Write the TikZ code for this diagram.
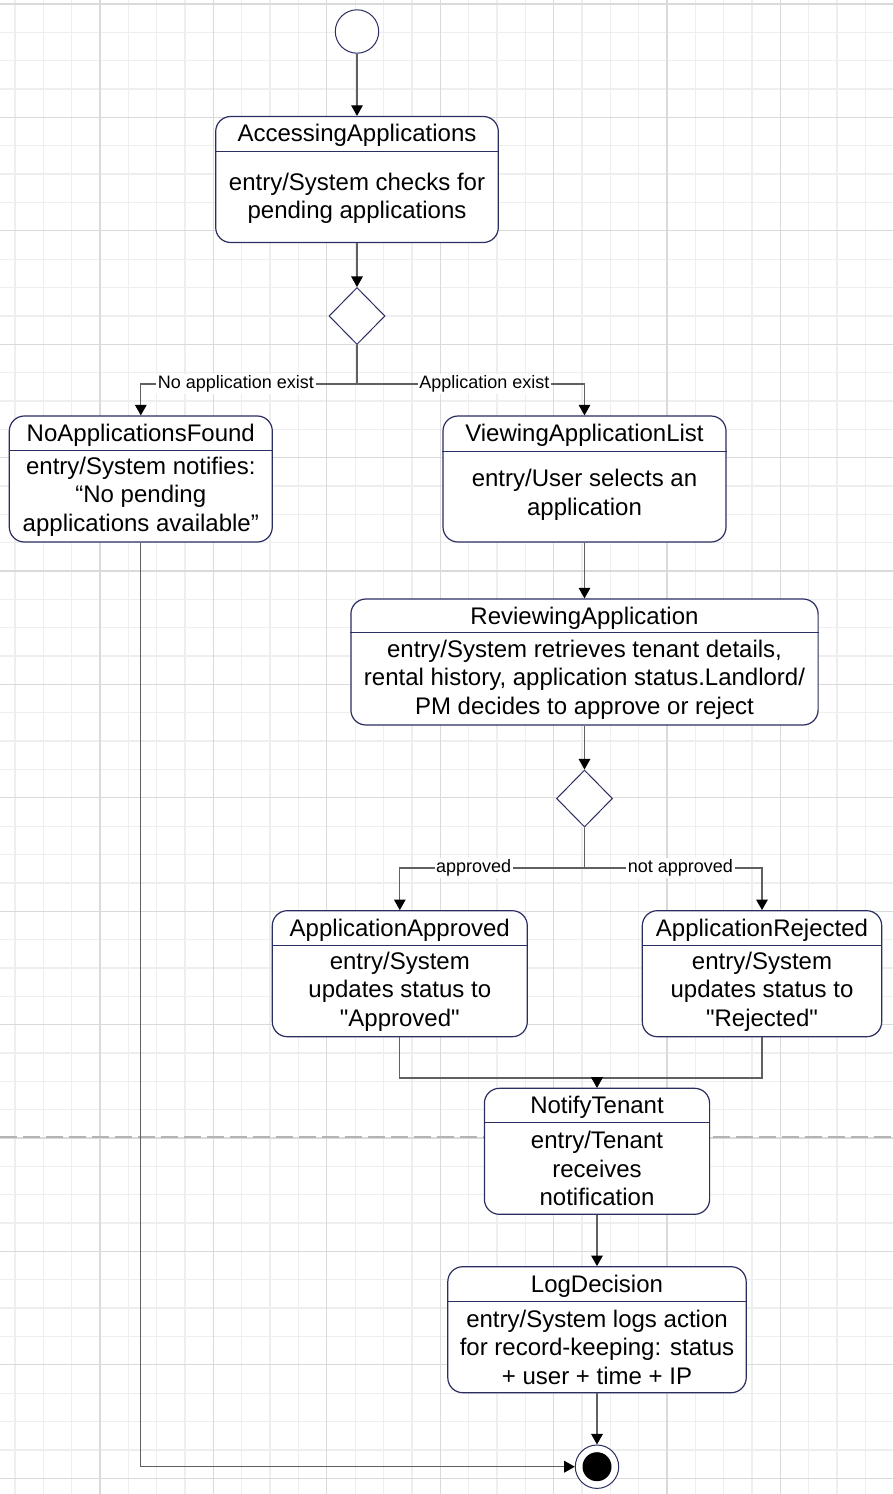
\documentclass[tikz,border=0pt]{standalone}
\usepackage{fontspec}
\setmainfont{Liberation Sans}
\newfontfamily\plainquote{Liberation Sans}
\usetikzlibrary{arrows.meta}
\usetikzlibrary{shapes.geometric}
\usetikzlibrary{calc}

\definecolor{navy}{RGB}{42,46,96}
\definecolor{gridminor}{RGB}{238,238,238}
\definecolor{gridmajor}{RGB}{218,218,218}
\definecolor{wire}{RGB}{96,96,96}
\definecolor{pagebreak}{RGB}{180,180,180}

% straight double quote (no TeX ligature mapping)
\newcommand{\sq}{{\plainquote"}}

\tikzset{
	statebox/.style={draw=navy, line width=0.6pt, rounded corners=7.5pt, fill=white, inner sep=0pt, minimum height=63pt},
	statetitle/.style={font=\fontsize{12}{14.25}\selectfont, inner sep=0pt, anchor=base},
	statebody/.style={font=\fontsize{12}{14.25}\selectfont, align=center, inner sep=0pt},
	divider/.style={draw=navy, line width=0.5pt},
	choice/.style={diamond, draw=navy, fill=white, line width=0.5pt, minimum width=28pt, minimum height=28.5pt, inner sep=0pt},
	flow/.style={draw=wire, line width=0.65pt, -{Triangle[width=5.8pt,length=5.3pt,color=black]}},
	guard/.style={fill=white, font=\fontsize{9}{10}\selectfont, inner sep=0.8pt},
}

\begin{document}
\begin{tikzpicture}[x=0.5pt, y=-0.5pt]
	% Fill background and fix the page size
	\fill[white] (0,0) rectangle (894,1494);
	\useasboundingbox (0,0) rectangle (894,1494);

	% Grid: minor lines, then every fourth line darker
	\begin{scope}
	\clip (0,0) rectangle (894,1494);
	\foreach \i in {0,1,...,31} {
		\pgfmathsetmacro{\gx}{14.95+28.35*\i}
		\draw[gridminor, line width=0.65pt] (\gx,0) -- (\gx,1494);
	}
	\foreach \j in {0,1,...,52} {
		\pgfmathsetmacro{\gy}{4+28.35*\j}
		\draw[gridminor, line width=0.65pt] (0,\gy) -- (894,\gy);
	}
	\foreach \i in {0,1,...,7} {
		\pgfmathsetmacro{\gx}{100+113.4*\i}
		\draw[gridmajor, line width=0.65pt] (\gx,0) -- (\gx,1494);
	}
	\foreach \j in {0,1,...,13} {
		\pgfmathsetmacro{\gy}{4+113.4*\j}
		\draw[gridmajor, line width=0.65pt] (0,\gy) -- (894,\gy);
	}
	\end{scope}

	% Page break
	\draw[pagebreak, line width=1pt, dash pattern=on 8.5pt off 3pt] (0,1137) -- (894,1137);

	% Initial and final states
	\node[circle, draw=navy, fill=white, line width=0.5pt, minimum size=21.7pt, inner sep=0pt] (init) at (357,31.5) {};
	\node[circle, draw=navy, fill=white, line width=0.5pt, minimum size=21.7pt, inner sep=0pt] (final) at (597,1466.7) {};
	\node[circle, fill=black, minimum size=14.5pt, inner sep=0pt] (final-dot) at (final) {};

	% Decisions
	\node[choice] (check) at (357,316) {};
	\node[choice] (verdict) at (584.5,798.5) {};

	% States: box, title, divider, entry action
	\node[statebox, minimum width=141.3pt] (access) at (357,179.5) {};
	\node[statetitle] (access-t) at ($(access.north)+(0,26)$) {AccessingApplications};
	\draw[divider] ($(access.north west)+(0,36)$) -- ($(access.north east)+(0,36)$);
	\node[statebody] (access-b) at ($(access.south)+(0,-45)$) {entry/System checks for\\pending applications};

	\node[statebox, minimum width=131.5pt] (noapp) at (140.8,479) {};
	\node[statetitle] (noapp-t) at ($(noapp.north)+(0,26)$) {NoApplicationsFound};
	\draw[divider] ($(noapp.north west)+(0,35)$) -- ($(noapp.north east)+(0,35)$);
	\node[statebody] (noapp-b) at ($(noapp.south)+(0,-46)$) {entry/System notifies:\\“No pending\\applications available”};

	\node[statebox, minimum width=141.5pt] (viewing) at (584.5,479) {};
	\node[statetitle] (viewing-t) at ($(viewing.north)+(0,26)$) {ViewingApplicationList};
	\draw[divider] ($(viewing.north west)+(0,36)$) -- ($(viewing.north east)+(0,36)$);
	\node[statebody] (viewing-b) at ($(viewing.south)+(0,-48)$) {entry/User selects an\\application};

	\node[statebox, minimum width=233.6pt] (review) at (584.5,662) {};
	\node[statetitle] (review-t) at ($(review.north)+(0,26)$) {ReviewingApplication};
	\draw[divider] ($(review.north west)+(0,34.5)$) -- ($(review.north east)+(0,34.5)$);
	\node[statebody] (review-b) at ($(review.south)+(0,-46)$) {entry/System retrieves tenant details,\\rental history, application status.Landlord/\\PM decides to approve or reject};

	\node[statebox, minimum width=127.5pt] (approved) at (399.8,973.7) {};
	\node[statetitle] (approved-t) at ($(approved.north)+(0,26)$) {ApplicationApproved};
	\draw[divider] ($(approved.north west)+(0,35.5)$) -- ($(approved.north east)+(0,35.5)$);
	\node[statebody] (approved-b) at ($(approved.south)+(0,-46)$) {entry/System\\updates status to\\\sq Approved\sq};

	\node[statebox, minimum width=119.7pt] (rejected) at (762,973.7) {};
	\node[statetitle] (rejected-t) at ($(rejected.north)+(0,26)$) {ApplicationRejected};
	\draw[divider] ($(rejected.north west)+(0,35.5)$) -- ($(rejected.north east)+(0,35.5)$);
	\node[statebody] (rejected-b) at ($(rejected.south)+(0,-46)$) {entry/System\\updates status to\\\sq Rejected\sq};

	\node[statebox, minimum width=112.6pt] (notify) at (597,1151.3) {};
	\node[statetitle] (notify-t) at ($(notify.north)+(0,26)$) {NotifyTenant};
	\draw[divider] ($(notify.north west)+(0,35)$) -- ($(notify.north east)+(0,35)$);
	\node[statebody] (notify-b) at ($(notify.south)+(0,-46)$) {entry/Tenant\\receives\\notification};

	\node[statebox, minimum width=149.2pt] (log) at (597,1329.7) {};
	\node[statetitle] (log-t) at ($(log.north)+(0,26)$) {LogDecision};
	\draw[divider] ($(log.north west)+(0,35.5)$) -- ($(log.north east)+(0,35.5)$);
	\node[statebody] (log-b) at ($(log.south)+(0,-46)$) {entry/System logs action\\for record-keeping: status\\+ user + time + IP};

	% Branch points and merge point
	\coordinate (split) at (357,384);
	\coordinate (split2) at (584.5,868);
	\coordinate (merge) at (597,1078);

	% Transitions
	\draw[flow] (init) -- (access);
	\draw[flow] (access) -- (check);
	\draw[flow] (check.south) -- (split) -| node[guard, pos=0.28] {No application exist} (noapp.north);
	\draw[flow] (check.south) -- (split) -| node[guard, pos=0.28] {Application exist} (viewing.north);
	\draw[flow] (viewing) -- (review);
	\draw[flow] (review) -- (verdict);
	\draw[flow] (verdict.south) -- (split2) -| node[guard, pos=0.3] {approved} (approved.north);
	\draw[flow] (verdict.south) -- (split2) -| node[guard, pos=0.27] {not approved} (rejected.north);
	\draw[flow] (approved.south) |- (merge) -- (notify.north);
	\draw[flow] (rejected.south) |- (merge) -- (notify.north);
	\draw[flow] (notify) -- (log);
	\draw[flow] (log) -- (final);
	\draw[flow] (noapp.south) |- (final.west);
\end{tikzpicture}
\end{document}
